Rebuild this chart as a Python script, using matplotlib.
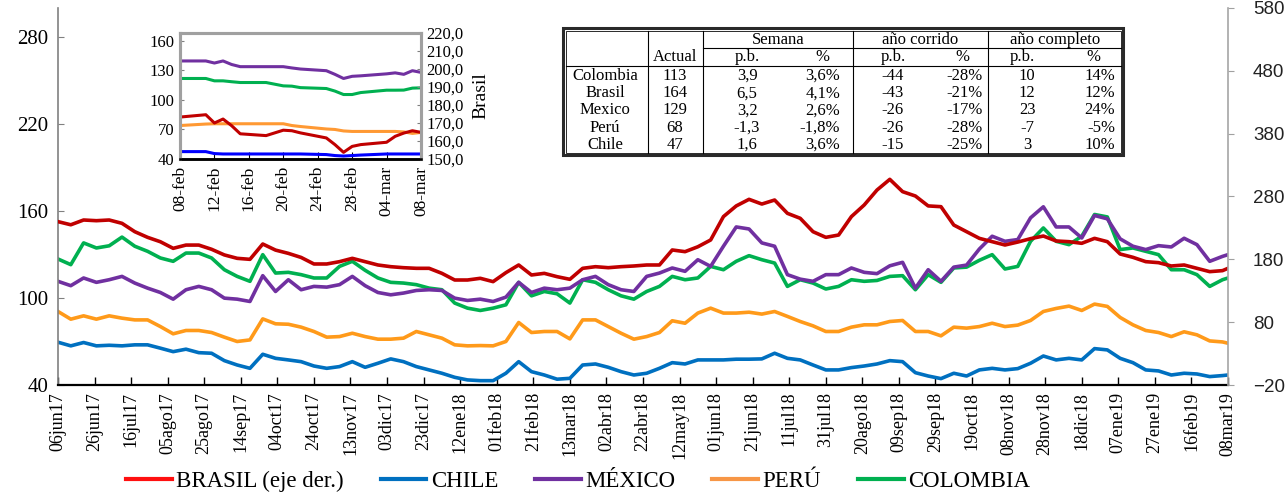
import matplotlib.pyplot as plt
from matplotlib.lines import Line2D
from matplotlib.patches import Rectangle
import pandas as pd

plt.rcParams['font.family'] = ['Liberation Serif', 'DejaVu Serif']

# --- serie semanal (06jun17 .. 08mar19) ---
fechas = list(pd.date_range('2017-06-06', periods=92, freq='7D')) + [pd.Timestamp('2019-03-08')]

brasil = [240, 235, 242.6, 241.5, 242.6, 237.3, 224, 215, 208, 197.5, 202.7, 202.7, 196, 187, 181.6, 180,
          204.4, 194.7, 189.5, 183, 172.6, 172.6, 176.3,
          181.6, 176.3, 171, 168.3, 166.7, 165.7, 165.7, 157.7, 147.1, 147.1, 149.8, 144.5, 158.8, 171,
          155.1, 157.7, 152.4, 148.2, 165.7, 168.3, 166.7, 168.3, 169.4,
          171, 171, 194.9, 192.2, 200, 210.8, 248, 265, 275.5, 268, 274.4, 253.2, 245.3, 224, 215, 218.7,
          248, 266.5, 290.3, 307.3, 287.7, 280.8, 265,
          263.8, 234.6, 224, 213.4, 208.1, 202.8, 207.5, 212.9, 217.1, 209.2, 208.1, 205.5, 213.4, 208.1,
          188.5, 183.2, 176.3, 174.7, 169.4, 171, 165.7, 160.4, 162, 165.7]
chile = [69.5, 67, 69.3, 67, 67.4, 67, 67.7, 67.7, 65.4, 63, 64.7, 62.3, 61.9, 56.8, 53.8, 51.5, 61.2, 58.4,
         57.3, 56.1, 53.1, 51.5, 52.7,
         56.1, 52.2, 55, 58, 56.1, 52.7, 50.4, 48.1, 45.3, 43.5, 43, 43, 48.1, 56.1, 49.2, 46.9, 44, 44.6,
         53.8, 54.5, 52.2, 49.2, 46.9,
         48.1, 51.5, 55.4, 54.5, 57.3, 57.3, 57.3, 57.8, 57.8, 58, 61.9, 58.4, 57.3, 53.8, 50.4, 50.4, 52,
         53.1, 54.5, 56.8, 56.1, 48.5, 46.2,
         44.4, 48.1, 46.2, 50.4, 51.5, 50.4, 51.3, 55, 60, 57.3, 58.4, 57.3, 65.1, 64.2, 58.4, 55.4, 50.4,
         49.7, 46.9, 48.1, 47.6, 45.8, 46.5, 46.9]
mexico = [111.5, 108.5, 113.8, 110.8, 112.6, 114.9, 110.3, 106.8, 103.8, 99.2, 105.7, 108, 105.7, 99.9,
          99.2, 97.6, 115.4, 104.5, 112.6, 105.7, 108, 107.5, 109.2,
          114.9, 108.5, 103.8, 102.2, 103.4, 105.2, 105.7, 105.2, 99.9, 98.3, 99.2, 97.6, 100.6, 110.8,
          103.8, 106.8, 105.7, 106.8, 112.6, 114.9, 109.2, 105.7, 104.5,
          114.9, 117.2, 120.7, 118.4, 126.4, 121.8, 135.7, 149, 147.6, 138, 135.7, 116.1, 113, 111.5,
          116.1, 116.1, 120.7, 117.7, 116.8, 122.2, 124.6, 106.8, 119.5,
          111.5, 121.3, 122.7, 133.8, 142.6, 139.1, 140.3, 155.3, 162.9, 149, 149, 141.4, 156.9, 154.6,
          140.8, 135.7, 133.4, 136.1, 135.2, 141.2, 136.8, 125.3, 128.7, 129.9]
peru = [90.7, 85.4, 87.7, 85.4, 87.7, 86.1, 84.9, 84.9, 80.3, 75.3, 77.6, 77.6, 76.2, 73, 70, 71.1, 85.6,
        82.2, 81.9, 79.9, 76.9, 73, 73.4,
        75.7, 73.4, 71.6, 71.6, 72.3, 76.9, 74.6, 72.3, 67.7, 67, 67.2, 67, 70, 83.1, 76.2, 76.9, 76.9,
        71.8, 84.9, 84.9, 80.3, 75.7, 71.6,
        73.4, 76.2, 84.3, 82.6, 89.6, 93, 89.6, 89.6, 90.2, 88.9, 90.7, 87.3, 83.8, 80.8, 76.9, 76.9, 79.9,
        81.5, 81.5, 83.8, 84.5, 76.9, 76.9,
        73.9, 79.9, 79.2, 80.3, 82.6, 80.3, 81.3, 84.5, 90.7, 92.8, 94.4, 91.4, 95.8, 94.2, 86.6, 81.5,
        77.6, 76.2, 73.4, 76.7, 74.6, 70.4, 69.7, 68.8]
colombia = [126.9, 123, 138, 134.5, 136, 142, 135.7, 132.2, 127.6, 125.3, 131, 131, 127.6, 119.5, 114.9,
            111.5, 129.9, 117.2, 117.7, 116.1, 113.8, 113.8, 121.8,
            125.3, 119.1, 113.8, 110.8, 110.3, 109.2, 106.8, 105.7, 96.5, 93, 91.4, 93, 95.3, 110.8, 101.5,
            104.5, 102.9, 96.5, 112.6, 110.8, 105.7, 101.5, 99.2,
            104.5, 108, 114.9, 112.6, 113.8, 121.8, 119.5, 125.3, 129.2, 126.4, 124.1, 108, 112.6, 110.3,
            106.2, 108, 112.6, 111.5, 112.1, 114.9, 115.4, 105.7, 116.1,
            110.8, 120.7, 121.3, 126, 129.9, 120, 121.8, 139.1, 148.3, 139.1, 136.8, 142.6, 157.6, 155.9,
            133.4, 134.5, 132.2, 129.9, 119.5, 119.5, 116.1, 108, 112.6, 113.8]

# --- recuadro: último mes (días hábiles) ---
fechas_i = pd.bdate_range('2019-02-08', '2019-03-08')
brasil_i = [173.3, 174.6, 170.0, 172.2, 168.5, 164.0, 163.0, 164.5, 166.0, 165.7, 164.5, 161.7, 158.0,
            153.7, 157.0, 158.0, 159.3, 162.6, 164.4, 165.7, 164.8]
mexico_i = [139.6, 139.6, 137.5, 139.6, 136, 133.8, 133.8, 133.8, 133.8, 132.5, 131.4, 129.7, 126,
            121.8, 124, 124.5, 126.5, 127.5, 126, 129.7, 128]
colombia_i = [121.8, 121.8, 119.4, 119.4, 118.5, 117.7, 117.7, 116, 114.3, 114, 112.5, 111.6, 109,
              105.5, 105.5, 107.5, 109.9, 109.9, 110, 112, 112.3]
peru_i = [74, 75.5, 75.8, 75.8, 75.8, 75.8, 75.8, 75.8, 75.8, 74, 73, 70.5, 70, 68.5, 68, 68, 68, 68,
          67.5, 66, 67]
chile_i = [47.5, 47.5, 45.5, 45.1, 45.1, 45.1, 45.1, 45.1, 45.1, 45.1, 45.1, 44.5, 43.5, 43, 43.5, 44,
           45.1, 45.1, 45.1, 45.1, 45.1]

# --- tabla ---
paises_tab = ['Colombia', 'Brasil', 'Mexico', 'Perú', 'Chile']
actual = [113, 164, 129, 68, 47]
sem_pb = [3.9, 6.5, 3.2, -1.3, 1.6]
sem_pct = [3.6, 4.1, 2.6, -1.8, 3.6]
ac_pb = [-44, -43, -26, -26, -15]
ac_pct = [-28, -21, -17, -28, -25]
comp_pb = [10, 12, 23, -7, 3]
comp_pct = [14, 12, 24, -5, 10]

meses = ['ene', 'feb', 'mar', 'abr', 'may', 'jun', 'jul', 'ago', 'sep', 'oct', 'nov', 'dic']

ROJO, AZUL, MORADO, NARANJA, VERDE = '#C00000', '#0070C0', '#7030A0', '#FF9A1A', '#00B050'

W, H = 1286, 495
fig = plt.figure(figsize=(12.86, 4.95), dpi=100)

# grafico principal
ax = fig.add_axes([58 / W, 1 - 385 / H, 1170 / W, 377 / H])
ax2 = ax.twinx()
ax.plot(fechas, chile, color=AZUL, lw=2.6)
ax.plot(fechas, peru, color=NARANJA, lw=2.6)
ax.plot(fechas, colombia, color=VERDE, lw=2.6)
ax.plot(fechas, mexico, color=MORADO, lw=2.6)
ax2.plot(fechas, brasil, color=ROJO, lw=2.6)

ax.set_xlim(pd.Timestamp('2017-06-06'), pd.Timestamp('2019-03-08'))
ax.set_ylim(40, 300)
ax.set_yticks([40, 100, 160, 220, 280])
ax2.set_ylim(-20, 580)
ax2.set_yticks(range(-20, 581, 100))

ticks_x = pd.date_range('2017-06-06', '2019-03-08', freq='20D')
ax.set_xticks(ticks_x)
ax.set_xticklabels([f"{d.day:02d}{meses[d.month - 1]}{d.year % 100:02d}" for d in ticks_x],
                   rotation=90, fontsize=13)
ax.tick_params(axis='x', direction='in', length=6, width=1, color='black', pad=5)
ax.tick_params(axis='y', direction='in', length=4, color='#808080', labelsize=15, pad=7)
ax2.tick_params(axis='y', direction='out', length=4, color='#a0a0a0', labelsize=13.5, pad=14,
                labelcolor='#222222')
for t in ax2.get_yticklabels():
    t.set_family('Liberation Sans')

ax.spines['top'].set_visible(False)
ax.spines['right'].set_visible(False)
ax.spines['left'].set_color('#808080')
ax.spines['left'].set_linewidth(1.2)
ax.spines['bottom'].set_linewidth(1.6)
for s in ['top', 'left', 'bottom']:
    ax2.spines[s].set_visible(False)
ax2.spines['right'].set_color('#a6a6a6')
ax2.spines['right'].set_linewidth(1.2)

# recuadro
axi = fig.add_axes([180 / W, 1 - 159 / H, 241 / W, 126 / H])
axi2 = axi.twinx()
axi.plot(fechas_i, chile_i, color='#0000FF', lw=2.2)
axi.plot(fechas_i, peru_i, color='#FF9933', lw=2.2)
axi.plot(fechas_i, colombia_i, color=VERDE, lw=2.2)
axi.plot(fechas_i, mexico_i, color=MORADO, lw=2.2)
axi2.plot(fechas_i, brasil_i, color=ROJO, lw=2.2)
axi.set_xlim(fechas_i[0], fechas_i[-1])
axi.set_ylim(40, 168)
axi.set_yticks([40, 70, 100, 130, 160])
axi2.set_ylim(150, 220)
axi2.set_yticks(range(150, 221, 10))
axi2.set_yticklabels([f"{v},0" for v in range(150, 221, 10)])
axi2.set_ylabel('Brasil', fontsize=14, labelpad=6)
ticks_i = pd.date_range('2019-02-08', '2019-03-08', freq='4D')
axi.set_xticks(ticks_i)
axi.set_xticklabels([f"{d.day:02d}-{meses[d.month - 1]}" for d in ticks_i], rotation=90, fontsize=12.5)
axi.tick_params(axis='x', direction='in', length=5, color='black', pad=5)
axi.tick_params(axis='y', direction='in', length=3, color='#808080', labelsize=12, pad=4)
axi2.tick_params(axis='y', direction='in', length=3, color='#808080', labelsize=12, pad=4)
for a in (axi, axi2):
    for s in ['top', 'left', 'right']:
        a.spines[s].set_color('#a0a0a0')
        a.spines[s].set_linewidth(2.2)
    a.spines['bottom'].set_color('black')
    a.spines['bottom'].set_linewidth(1.8)

# tabla (en coordenadas de pixel)
tab = fig.add_axes([0, 0, 1, 1])
tab.set_xlim(0, W)
tab.set_ylim(H, 0)
tab.axis('off')
tab.patch.set_visible(False)
x0, x1, y0, y1 = 563, 1123, 28, 155
tab.add_patch(Rectangle((x0, y0), x1 - x0, y1 - y0, fc='white', ec='#2a2a2a', lw=2.2))
tab.add_patch(Rectangle((x0 + 2.5, y0 + 2.5), x1 - x0 - 5, y1 - y0 - 5, fill=False, ec='#2a2a2a', lw=0.7))
for xv in [648, 703, 853, 988]:
    tab.plot([xv, xv], [y0 + 2.5, y1 - 2.5], color='black', lw=0.8)
tab.plot([703, x1 - 2.5], [48, 48], color='black', lw=0.8)
tab.plot([x0 + 2.5, x1 - 2.5], [65.5, 65.5], color='black', lw=0.8)

fs = 12
for txt, xc in [('Semana', 778), ('año corrido', 920), ('año completo', 1055)]:
    tab.text(xc, 40, txt, ha='center', va='center', fontsize=fs)
for txt, xc in [('Actual', 675), ('p.b.', 747), ('%', 822), ('p.b.', 893), ('%', 962),
                ('p.b.', 1022), ('%', 1093)]:
    tab.text(xc, 57, txt, ha='center', va='center', fontsize=fs)


def coma(v, dec=1):
    return f"{v:.{dec}f}".replace('.', ',')


for i, p in enumerate(paises_tab):
    yr = 76 + i * 17.2
    tab.text(605, yr, p, ha='center', va='center', fontsize=fs)
    tab.text(675, yr, str(actual[i]), ha='center', va='center', fontsize=fs)
    tab.text(747, yr, coma(sem_pb[i]), ha='center', va='center', fontsize=fs)
    tab.text(840, yr, coma(sem_pct[i]) + '%', ha='right', va='center', fontsize=fs)
    tab.text(893, yr, str(ac_pb[i]), ha='center', va='center', fontsize=fs)
    tab.text(983, yr, f"{ac_pct[i]}%", ha='right', va='center', fontsize=fs)
    tab.text(1027, yr, str(comp_pb[i]), ha='center', va='center', fontsize=fs)
    tab.text(1115, yr, f"{comp_pct[i]}%", ha='right', va='center', fontsize=fs)

# leyenda
handles = [Line2D([], [], color=c, lw=3) for c in ['#FF1010', AZUL, MORADO, '#F79646', VERDE]]
fig.legend(handles, ['BRASIL (eje der.)', 'CHILE', 'MÉXICO', 'PERÚ', 'COLOMBIA'],
           loc='center', bbox_to_anchor=(578 / W, 1 - 481 / H), ncol=5, frameon=False,
           fontsize=16.5, handlelength=2.0, handletextpad=0.2, columnspacing=1.6)

fig.savefig('out.png', dpi=100)
